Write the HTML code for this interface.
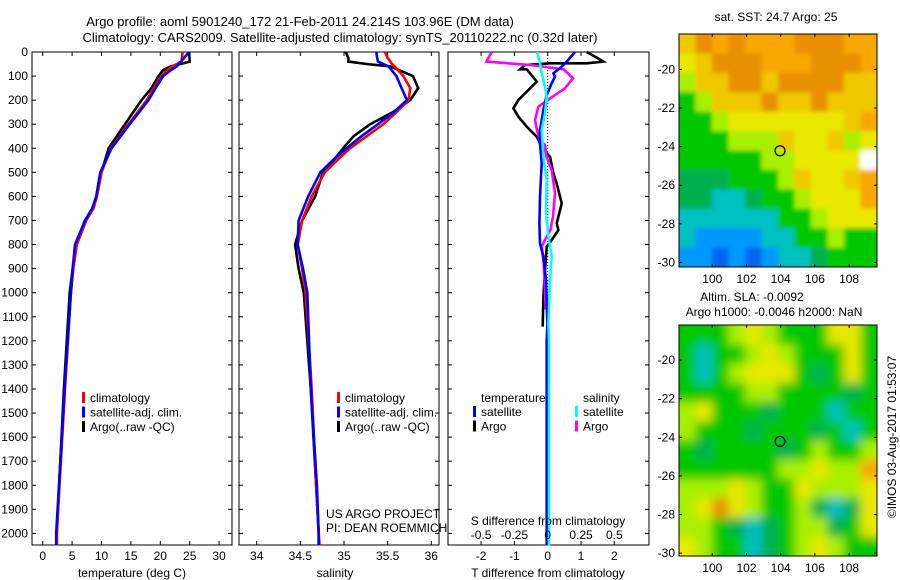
<!DOCTYPE html>
<html><head><meta charset="utf-8"><style>
html,body{margin:0;padding:0;background:#fff;}
svg{display:block;font-family:"Liberation Sans",sans-serif;}
</style></head><body>
<svg id="fig" width="900" height="580" viewBox="0 0 900 580" xmlns="http://www.w3.org/2000/svg">
<text x="300" y="26" font-size="13" text-anchor="middle">Argo profile: aoml 5901240_172 21-Feb-2011 24.214S 103.96E (DM data)</text>
<text x="340" y="42" font-size="13" text-anchor="middle">Climatology: CARS2009. Satellite-adjusted climatology: synTS_20110222.nc (0.32d later)</text>
<g id="g1"></g>
<g id="g2"></g>
<g id="g3"></g>
<g id="m1"></g>
<g id="m2"></g>
<text x="776" y="21" font-size="12" text-anchor="middle">sat. SST: 24.7 Argo: 25</text>
<text x="752" y="301" font-size="12" text-anchor="middle">Altim. SLA: -0.0092</text>
<text x="774" y="316" font-size="12" text-anchor="middle">Argo h1000: -0.0046 h2000: NaN</text>
<text transform="translate(896,437) rotate(-90)" font-size="12" text-anchor="middle">©IMOS 03-Aug-2017 01:53:07</text>
<text x="326" y="518" font-size="12">US ARGO PROJECT</text>
<text x="326" y="532" font-size="12">PI: DEAN ROEMMICH</text>
</svg>
<script>
// ---- data ----
const tDepth = [0,40,60,75,100,150,200,300,400,500,600,650,700,800,900,1000,1400,2000,2050];
const tArgo  = [24.9,25.0,21.8,20.5,19.7,18.5,16.8,14.0,11.2,10.0,9.2,8.6,7.2,5.7,5.1,4.6,3.6,2.4,2.4];
const tClim  = [23.8,23.6,22.0,21.2,20.2,18.9,17.7,14.6,11.6,10.0,9.2,8.6,7.4,5.8,5.2,4.8,3.8,2.4,2.4];
const tSat   = [24.9,23.5,22.8,21.8,20.5,19.2,18.0,14.8,11.7,9.8,9.1,8.4,7.2,5.5,5.1,4.8,3.7,2.3,2.3];
const sDepth = [0,25,40,50,60,100,150,200,250,300,350,400,450,500,600,700,800,900,1000,1400,1800,2000,2050];
const sArgo  = [35.02,35.05,35.05,35.26,35.53,35.79,35.85,35.76,35.56,35.30,35.11,34.99,34.88,34.76,34.67,34.52,34.44,34.48,34.54,34.62,34.68,34.71,34.71];
const sClim  = [35.47,35.50,35.53,35.55,35.58,35.68,35.76,35.74,35.60,35.45,35.26,35.07,34.92,34.78,34.63,34.52,34.47,34.52,34.56,34.63,34.68,34.71,34.72];
const sSat   = [35.37,35.38,35.39,35.45,35.51,35.60,35.66,35.72,35.57,35.39,35.20,35.03,34.87,34.73,34.59,34.48,34.47,34.53,34.58,34.62,34.69,34.71,34.71];
const dtSatDepth = [0,40,61,89,102,130,179,241,324,380,463,601,712,795,850,947,1127,1200,2050];
const dtSat = [0.82,0.57,0.42,0.17,0.22,0.12,-0.03,-0.13,-0.23,-0.23,-0.18,-0.23,-0.25,-0.23,-0.13,-0.05,-0.01,-0.03,-0.03];
const dtArgoDepth = [0,19,40,47,47,54,72,72,89,123,137,158,199,234,269,310,352,380,421,435,504,546,629,712,740,781,809,906,1017,1141];
const dtArgo = [1.17,1.42,1.67,1.17,0.07,-0.68,-0.83,-0.63,-0.53,-0.33,-0.43,-0.58,-0.88,-1.03,-0.88,-0.63,-0.33,-0.23,-0.03,0.07,0.17,0.27,0.42,0.27,0.32,0.12,-0.03,-0.08,-0.13,-0.15];
const dsArgoDepth = [0,40,54,72,109,151,192,227,283,324,366,386,435,490,587,684,740,781,809,878,989,1070];
const dsArgo = [-0.42,-0.46,-0.13,0.12,0.19,0.13,0.02,-0.07,-0.095,-0.08,-0.06,-0.02,-0.01,0.03,0.055,0.04,0.02,-0.02,-0.045,-0.03,-0.02,-0.015];
const dsSatDepth = [0,40,89,144,186,255,324,435,532,670,767,850,947,1127,1200,2050];
const dsSat = [-0.08,-0.06,-0.045,-0.02,-0.0075,-0.02,-0.045,-0.0325,-0.0075,-0.0125,0.005,0.03,0.0175,0.005,0.01,0.01];
const depthTicks = [0,100,200,300,400,500,600,700,800,900,1000,1100,1200,1300,1400,1500,1600,1700,1800,1900,2000];
const tTicks = [0,5,10,15,20,25,30];
const sTicks = [34,34.5,35,35.5,36];
const sTickLabels = ["34","34.5","35","35.5","36"];
const dtTicks = [-2,-1,0,1,2];
const dsTicks = [-0.5,-0.25,0,0.25,0.5];
const dsTickLabels = ["-0.5","-0.25","0","0.25","0.5"];
const lonTicks = [100,102,104,106,108];
const latTicks = [-20,-22,-24,-26,-28,-30];
const sstGrid = [
"YOoOoooOOOoo","yYOOOoooOOOo","lYYOOYOOOOYY","glYYYOYYOYYY","gglyyyyyyyYo","ggglllYyyYly",
"gggggllyyyyw","GGGggglYyyYo","GGccGgglyyyo","ccccccgglyyy","cbbbbccgglgg","bbBbBbccGggg"];
const slaGrid = [
"ggglylgggyyg","gcgglylgggyg","gcglyyygGgyg","ggggllggggGg","lygggGgggcgg","lgggGgggGgcg",
"gGggggGglggl","ggggggllyllo","lllylggyllly","lyOylgglGcGy","llgGcGgllGgy","ylggcGglylgg"];
const argoLon = 103.96, argoLat = -24.214;

// ---- helpers ----
const NS="http://www.w3.org/2000/svg";
function mk(parent,tag,attrs,txt){const e=document.createElementNS(NS,tag);for(const k in attrs)e.setAttribute(k,attrs[k]);if(txt!==undefined)e.textContent=txt;parent.appendChild(e);return e;}
const yTop=52, yPx=0.2407, yBot=545;
const yD = d => yTop + d*yPx;

function frame(g,x0,x1,name){
  const r=mk(g,'rect',{x:x0,y:yTop,width:x1-x0,height:yBot-yTop,fill:'none',stroke:'#000','stroke-width':1});
  
  
  depthTicks.forEach(d=>{
    mk(g,'line',{x1:x0,x2:x0+4,y1:yD(d),y2:yD(d),stroke:'#000'});
    mk(g,'line',{x1:x1,x2:x1-4,y1:yD(d),y2:yD(d),stroke:'#000'});
  });
}
function line(g,xs,ds,xf,color,w,name){
  const pts=xs.map((v,i)=>xf(v).toFixed(1)+','+yD(ds[i]).toFixed(1)).join(' ');
  const p=mk(g,'polyline',{points:pts,fill:'none',stroke:color,'stroke-width':w,'stroke-linejoin':'miter'});
  
  
}
function xticks(g,ticks,labels,xf,y,top){
  ticks.forEach((t,i)=>{
    mk(g,'line',{x1:xf(t),x2:xf(t),y1:yBot,y2:yBot-4,stroke:'#000'});
    if(top) mk(g,'line',{x1:xf(t),x2:xf(t),y1:yTop,y2:yTop+4,stroke:'#000'});
    const tx=mk(g,'text',{x:xf(t),y:y,'font-size':12,'text-anchor':'middle'},labels[i]);
    
    
  });
}
function legend(g,x,y,items){
  items.forEach((it,i)=>{
    mk(g,'rect',{x:x,y:y+i*14.5-10,width:3,height:11,fill:it[0]});
    const t=mk(g,'text',{x:x+8,y:y+i*14.5,'font-size':12},it[1]);
    
    
  });
}

// ---- panel 1: temperature ----
const g1=document.getElementById('g1');
const xT=v=>42.7+v*5.88;
frame(g1,32,232,'temperature');
depthTicks.forEach(d=>{
  const t=mk(g1,'text',{x:28,y:yD(d)+4,'font-size':12,'text-anchor':'end'},String(d));
  
  
});
xticks(g1,tTicks,tTicks.map(String),xT,560,true);
mk(g1,'text',{x:132,y:577,'font-size':12,'text-anchor':'middle'},'temperature (deg C)');
line(g1,tArgo,tDepth,xT,'#000',2.6,'temperature-argo-line');
line(g1,tClim,tDepth,xT,'#f00',2.6,'temperature-climatology-line');
line(g1,tSat,tDepth,xT,'#00f',2.6,'temperature-satellite-line');
legend(g1,82,402,[['#f00','climatology'],['#00f','satellite-adj. clim.'],['#000','Argo(..raw -QC)']]);

// ---- panel 2: salinity ----
const g2=document.getElementById('g2');
const xS=v=>256.7+(v-34)*87.3;
frame(g2,239,439,'salinity');
xticks(g2,sTicks,sTickLabels,xS,560,true);
mk(g2,'text',{x:335,y:577,'font-size':12,'text-anchor':'middle'},'salinity');
line(g2,sArgo,sDepth,xS,'#000',2.6,'salinity-argo-line');
line(g2,sClim,sDepth,xS,'#f00',2.6,'salinity-climatology-line');
line(g2,sSat,sDepth,xS,'#00f',2.6,'salinity-satellite-line');
legend(g2,337,402,[['#f00','climatology'],['#00f','satellite-adj. clim.'],['#000','Argo(..raw -QC)']]);

// ---- panel 3: differences ----
const g3=document.getElementById('g3');
const xDT=v=>547.7+v*33.3;
const xDS=v=>547.7+v*133.3;
frame(g3,448,649,'difference');
xticks(g3,dtTicks,dtTicks.map(String),xDT,560,true);
mk(g3,'text',{x:548,y:577,'font-size':12,'text-anchor':'middle'},'T difference from climatology');
mk(g3,'line',{x1:xDT(0),x2:xDT(0),y1:yTop,y2:yBot,stroke:'#000','stroke-dasharray':'1,2'});
line(g3,dtArgo,dtArgoDepth,xDT,'#000',2.6,'t-diff-argo-line');
line(g3,dsArgo,dsArgoDepth,xDS,'#f0f',2.6,'s-diff-argo-line');
line(g3,dtSat,dtSatDepth,xDT,'#00f',2.6,'t-diff-satellite-line');
line(g3,dsSat,dsSatDepth,xDS,'#0ff',2.6,'s-diff-satellite-line');
dsTicks.forEach((t,i)=>{
  const tx=mk(g3,'text',{x:xDS(t),y:539,'font-size':12,'text-anchor':'middle'},dsTickLabels[i]);
  
  
});
mk(g3,'text',{x:548,y:525,'font-size':12,'text-anchor':'middle'},'S difference from climatology');
mk(g3,'text',{x:481,y:402,'font-size':12},'temperature');
mk(g3,'text',{x:583,y:402,'font-size':12},'salinity');
legend(g3,473,416,[['#00f','satellite'],['#000','Argo']]);
legend(g3,575,416,[['#0ff','satellite'],['#f0f','Argo']]);

// ---- maps ----
const colors={o:'#f8a800',O:'#e89000',Y:'#f0c800',y:'#e8e800',l:'#a8f000',g:'#00c800',G:'#00b050',c:'#00c0c0',b:'#0098ff',B:'#0068e8',w:'#ffffff'};
function map(id,grid,y0,y1,blur){
  const g=document.getElementById(id);
  const x0=679,x1=877;
  const lonX=v=>712.3+(v-100)*17.1;
  const latY=v=>(y0+ (y1-y0)*0.152)+(-20-v)*19.3;
  const cid='clip'+id;
  const cp=mk(g,'clipPath',{id:cid});mk(cp,'rect',{x:x0,y:y0,width:x1-x0,height:y1-y0});
  let inner;
  const cg=mk(g,'g',{'clip-path':'url(#'+cid+')'});
  const f=mk(g,'filter',{id:'f'+id,x:'-10%',y:'-10%',width:'120%',height:'120%'});
  mk(f,'feGaussianBlur',{stdDeviation:blur});
  inner=mk(cg,'g',{filter:'url(#f'+id+')'});
  const rows=grid.length, cw=(x1-x0)/12, rh=(y1-y0)/rows;
  grid.forEach((row,r)=>{for(let c=0;c<12;c++){
    const ch=row[c]||'g';
    mk(inner,'rect',{x:x0+c*cw-(c==0?12:0),y:y0+r*rh-(r==0?12:0),width:cw+((c==0||c==11)?13:0.5),height:rh+((r==0||r==rows-1)?13:0.5),fill:colors[ch]});
  }});
  const fr=mk(g,'rect',{x:x0,y:y0,width:x1-x0,height:y1-y0,fill:'none',stroke:'#000'});
  
  
  lonTicks.forEach(v=>{
    mk(g,'line',{x1:lonX(v),x2:lonX(v),y1:y1,y2:y1-3,stroke:'#000'});
    mk(g,'line',{x1:lonX(v),x2:lonX(v),y1:y0,y2:y0+3,stroke:'#000'});
    const t=mk(g,'text',{x:lonX(v),y:y1+16,'font-size':12,'text-anchor':'middle'},String(v));
    
    
  });
  latTicks.forEach(v=>{
    mk(g,'line',{x1:x0,x2:x0+3,y1:latY(v),y2:latY(v),stroke:'#000'});
    mk(g,'line',{x1:x1,x2:x1-3,y1:latY(v),y2:latY(v),stroke:'#000'});
    const t=mk(g,'text',{x:x0-4,y:latY(v)+4,'font-size':12,'text-anchor':'end'},String(v));
    
    
  });
  const m=mk(g,'ellipse',{cx:lonX(argoLon),cy:latY(argoLat),rx:5,ry:5,fill:'none',stroke:'#000','stroke-width':1.2});
  
  
}
map('m1',sstGrid,34,267,2);
map('m2',slaGrid,325,556,5);
</script>
</body></html>
